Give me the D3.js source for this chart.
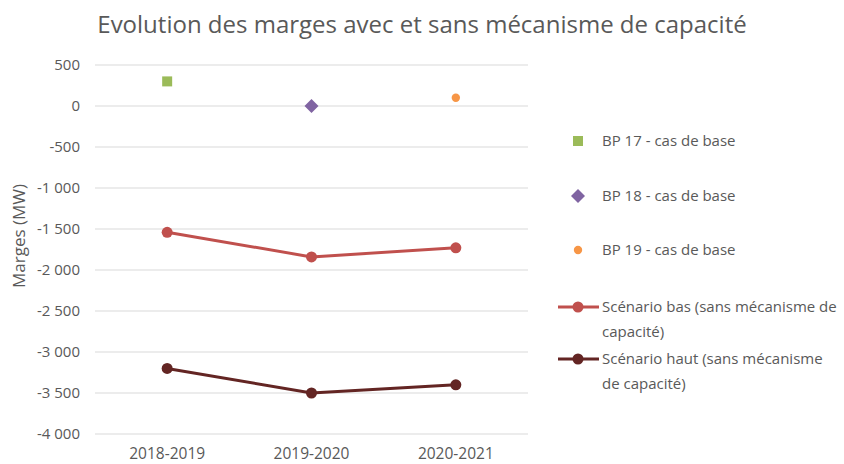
<!DOCTYPE html>
<html>
<head>
<meta charset="utf-8">
<script src="https://cdn.jsdelivr.net/npm/d3@7"></script>
<style>
  body { margin: 0; background: #fff; }
  svg text { font-family: "Open Sans", "Liberation Sans", sans-serif; fill: #595959; }
</style>
</head>
<body>
<div id="chart"></div>
<script>
// Data
const categories = ['2018-2019', '2019-2020', '2020-2021'];
const bp17 = [300, null, null];
const bp18 = [null, 0, null];
const bp19 = [null, null, 100];
const scenarioBas = [-1540, -1840, -1730];
const scenarioHaut = [-3200, -3500, -3400];
const yTicks = [500, 0, -500, -1000, -1500, -2000, -2500, -3000, -3500, -4000];

const width = 844, height = 464;
const plot = { left: 95, right: 528, top: 65, bottom: 434 };

const svg = d3.select('#chart').append('svg')
  .attr('width', width)
  .attr('height', height);

const x = d3.scaleBand()
  .domain(categories)
  .range([plot.left, plot.right]);

const y = d3.scaleLinear()
  .domain([-4000, 500])
  .range([plot.bottom, plot.top]);

const cx = c => x(c) + x.bandwidth() / 2;
// french style: "-4 000"
const fmt = v => (v < 0 ? '-' : '') + d3.format(',')(Math.abs(v)).replace(/,/g, ' ');

// title
svg.append('text')
  .attr('x', 422).attr('y', 33)
  .attr('text-anchor', 'middle')
  .style('font-size', '24px')
  .text('Evolution des marges avec et sans mécanisme de capacité');

// gridlines
svg.append('g')
  .selectAll('line')
  .data(yTicks)
  .enter().append('line')
  .attr('x1', plot.left).attr('x2', plot.right)
  .attr('y1', d => y(d)).attr('y2', d => y(d))
  .attr('stroke', '#d9d9d9')
  .attr('stroke-width', 1);

// y axis
const yAxis = svg.append('g')
  .attr('transform', `translate(${plot.left},0)`)
  .call(d3.axisLeft(y).tickValues(yTicks).tickSize(0).tickPadding(15).tickFormat(fmt));
yAxis.select('.domain').remove();
yAxis.selectAll('text').style('font-size', '15px').attr('fill', '#595959');

// x axis
const xAxis = svg.append('g')
  .attr('transform', `translate(0,${plot.bottom})`)
  .call(d3.axisBottom(x).tickSize(0).tickPadding(14));
xAxis.select('.domain').remove();
xAxis.selectAll('text').style('font-size', '15.5px').attr('fill', '#595959');

// axis title
svg.append('text')
  .attr('transform', `translate(25,236) rotate(-90)`)
  .attr('text-anchor', 'middle')
  .style('font-size', '17px')
  .text('Marges (MW)');

// lines
const line = d3.line()
  .x((d, i) => cx(categories[i]))
  .y(d => y(d));

const lineSeries = [
  { name: 'Scénario bas', values: scenarioBas, color: '#c0504d' },
  { name: 'Scénario haut', values: scenarioHaut, color: '#632523' }
];

lineSeries.forEach(s => {
  svg.append('path')
    .datum(s.values)
    .attr('d', line)
    .attr('fill', 'none')
    .attr('stroke', s.color)
    .attr('stroke-width', 3);
  svg.append('g')
    .selectAll('circle')
    .data(s.values)
    .enter().append('circle')
    .attr('cx', (d, i) => cx(categories[i]))
    .attr('cy', d => y(d))
    .attr('r', 5.5)
    .attr('fill', s.color);
});

// point series
const sq = d3.symbol().type(d3.symbolSquare).size(100);
const dia = 'M0,-7L7,0L0,7L-7,0Z';
const circ = d3.symbol().type(d3.symbolCircle).size(55);

const pointSeries = [
  { values: bp17, color: '#9bbb59', sym: sq },
  { values: bp18, color: '#8064a2', sym: dia },
  { values: bp19, color: '#f79646', sym: circ }
];

pointSeries.forEach(s => {
  svg.append('g')
    .selectAll('path')
    .data(s.values.map((v, i) => ({ v, c: categories[i] })).filter(d => d.v !== null))
    .enter().append('path')
    .attr('d', s.sym)
    .attr('transform', d => `translate(${cx(d.c)},${y(d.v)})`)
    .attr('fill', s.color);
});

// legend
const legend = svg.append('g');
const legendItems = [
  { lines: ['BP 17 - cas de base'], y: 141, color: '#9bbb59', sym: sq },
  { lines: ['BP 18 - cas de base'], y: 196, color: '#8064a2', sym: dia },
  { lines: ['BP 19 - cas de base'], y: 250, color: '#f79646', sym: circ },
  { lines: ['Scénario bas (sans mécanisme de', 'capacité)'], y: 307, color: '#c0504d', isLine: true },
  { lines: ['Scénario haut (sans mécanisme', 'de capacité)'], y: 359, color: '#632523', isLine: true }
];

legendItems.forEach(it => {
  if (it.isLine) {
    legend.append('line')
      .attr('x1', 558).attr('x2', 599)
      .attr('y1', it.y).attr('y2', it.y)
      .attr('stroke', it.color).attr('stroke-width', 3);
    legend.append('circle')
      .attr('cx', 578).attr('cy', it.y).attr('r', 5.5)
      .attr('fill', it.color);
  } else {
    legend.append('path')
      .attr('d', it.sym)
      .attr('transform', `translate(578,${it.y})`)
      .attr('fill', it.color);
  }
  const t = legend.append('text')
    .attr('x', 602).attr('y', it.y + 5)
    .style('font-size', '15px');
  it.lines.forEach((l, i) => {
    t.append('tspan').attr('x', 602).attr('dy', i === 0 ? 0 : 25).text(l);
  });
});
</script>
</body>
</html>
